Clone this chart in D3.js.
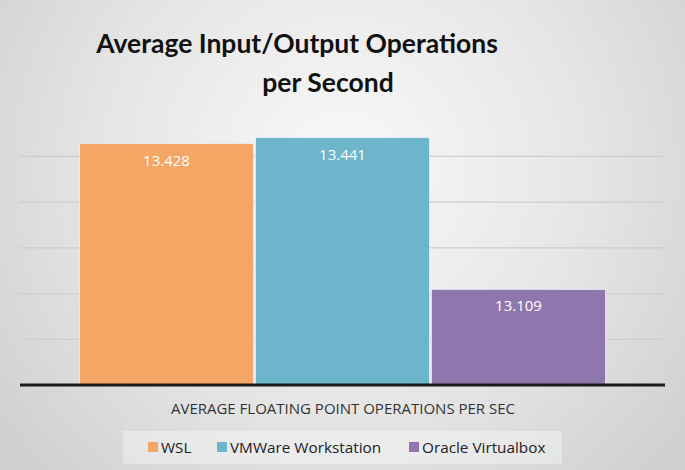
<!DOCTYPE html>
<html><head><meta charset="utf-8">
<script src="https://cdn.jsdelivr.net/npm/d3@7"></script>
<style>html,body{margin:0;padding:0;overflow:hidden;}</style>
</head><body>
<script>
const categories = ["AVERAGE FLOATING POINT OPERATIONS PER SEC"];
const seriesNames = ["WSL", "VMWare Workstation", "Oracle Virtualbox"];
const seriesValues = [13.428, 13.441, 13.109];
const seriesColors = ["#F4A664", "#6CB5CB", "#8F77AE"];
const gridTicks = [13.0, 13.1, 13.2, 13.3, 13.4];
const titleLines = ["Average Input/Output Operations", "per Second"];

const W = 685, H = 470;
const svg = d3.select("body").append("svg").attr("width", W).attr("height", H);
const defs = svg.append("defs");
const rg = defs.append("radialGradient").attr("id", "bg")
  .attr("gradientUnits", "userSpaceOnUse").attr("cx", 345).attr("cy", 170).attr("r", 430);
rg.append("stop").attr("offset", "0").attr("stop-color", "#f9f9f9");
rg.append("stop").attr("offset", "0.55").attr("stop-color", "#e6e6e6");
rg.append("stop").attr("offset", "1").attr("stop-color", "#cfd0d0");
svg.append("rect").attr("width", W).attr("height", H).attr("fill", "url(#bg)");

const plot = {left: 20, right: 665, top: 0, bottom: 385};
const y = d3.scaleLinear().domain([12.9, 13.742]).range([plot.bottom, plot.top]);
const x0 = d3.scaleBand().domain(categories).range([plot.left, plot.right]).paddingInner(0).paddingOuter(0.1108);
const x1 = d3.scaleBand().domain(seriesNames).range([0, x0.bandwidth()]).padding(0);

// gridlines
svg.append("g").selectAll("line").data(gridTicks).join("line")
  .attr("x1", plot.left).attr("x2", plot.right)
  .attr("y1", d => y(d)).attr("y2", d => y(d))
  .attr("stroke", "#cdcdcd").attr("stroke-width", 1.3);

// bars
const g = svg.append("g").attr("transform", `translate(${x0(categories[0])},0)`);
g.selectAll("rect").data(seriesNames).join("rect")
  .attr("x", d => x1(d) + 1).attr("width", x1.bandwidth() - 2)
  .attr("y", (d, i) => y(seriesValues[i]))
  .attr("height", (d, i) => y(12.9) - y(seriesValues[i]))
  .attr("fill", (d, i) => seriesColors[i])
  .attr("stroke", "#f4f4f4").attr("stroke-opacity", 0.7).attr("stroke-width", 1);

g.selectAll("text").data(seriesNames).join("text")
  .attr("x", d => x1(d) + x1.bandwidth() / 2)
  .attr("y", (d, i) => y(seriesValues[i]) + 22)
  .attr("text-anchor", "middle").attr("fill", "#ffffff")
  .attr("font-family", "Open Sans, sans-serif").attr("font-size", 15)
  .text((d, i) => seriesValues[i].toFixed(3));

// baseline axis
svg.append("line").attr("x1", plot.left).attr("x2", plot.right)
  .attr("y1", y(12.9)).attr("y2", y(12.9))
  .attr("stroke", "#1a1a1a").attr("stroke-width", 3);

// category label
svg.append("text").attr("x", 343).attr("y", 414).attr("text-anchor", "middle")
  .attr("font-family", "Open Sans, sans-serif").attr("font-size", 15).attr("fill", "#333")
  .text(categories[0]);

// title
svg.append("text").attr("x", 297).attr("y", 53).attr("text-anchor", "middle")
  .attr("font-family", "Lato, sans-serif").attr("font-weight", "bold").attr("font-size", 26.5)
  .attr("fill", "#111").text(titleLines[0]);
svg.append("text").attr("x", 328).attr("y", 92).attr("text-anchor", "middle")
  .attr("font-family", "Lato, sans-serif").attr("font-weight", "bold").attr("font-size", 26.5)
  .attr("fill", "#111").text(titleLines[1]);

// legend
svg.append("rect").attr("x", 123).attr("y", 431).attr("width", 439).attr("height", 33)
  .attr("fill", "#ffffff").attr("fill-opacity", 0.35);
const legendX = [148, 217, 409];
const lg = svg.append("g").selectAll("g").data(seriesNames).join("g")
  .attr("transform", (d, i) => `translate(${legendX[i]},447)`);
lg.append("rect").attr("x", 0).attr("y", -5).attr("width", 10).attr("height", 10)
  .attr("fill", (d, i) => seriesColors[i]);
lg.append("text").attr("x", 13).attr("y", 5.5)
  .attr("font-family", "Open Sans, sans-serif").attr("font-size", 15.3).attr("fill", "#222")
  .text(d => d);
</script>
</body></html>
